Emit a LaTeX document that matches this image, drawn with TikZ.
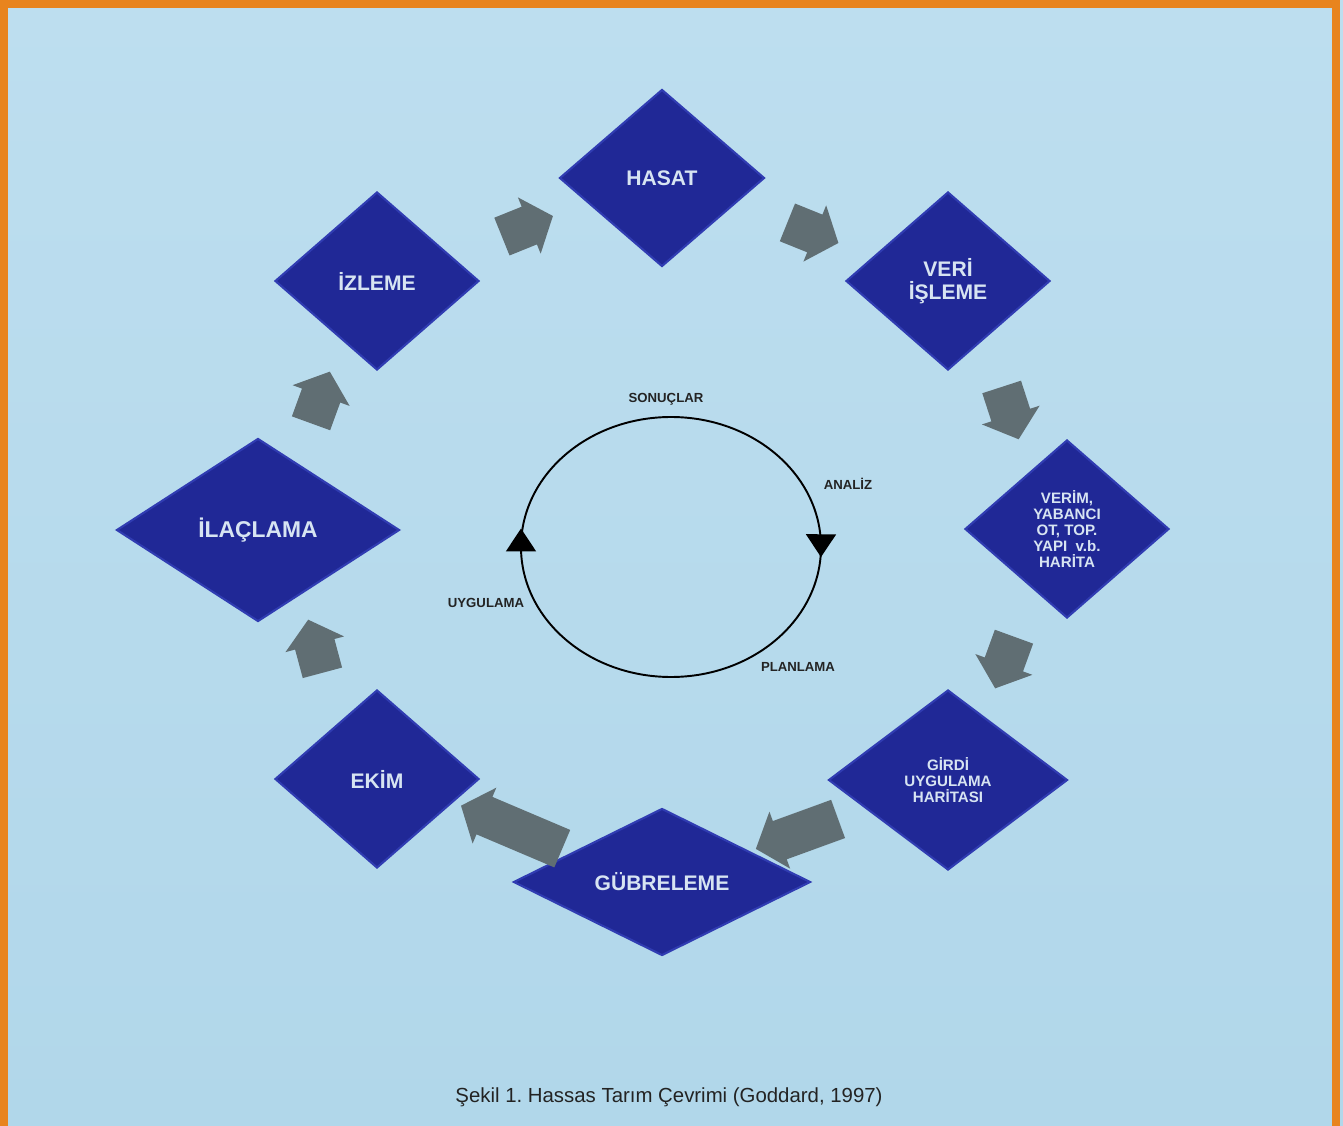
\documentclass[tikz,border=0pt]{standalone}
\usepackage{fontspec}
\setmainfont{Liberation Sans}
\usetikzlibrary{shapes.geometric, shapes.arrows, calc, decorations.markings, arrows.meta}

\definecolor{bgtop}{RGB}{189,222,239}
\definecolor{bgbottom}{RGB}{177,215,234}
\definecolor{frameorange}{RGB}{232,132,30}
\definecolor{boxblue}{RGB}{32,40,150}
\definecolor{boxedge}{RGB}{48,60,178}
\definecolor{boxtext}{RGB}{215,228,242}
\definecolor{arrowgray}{RGB}{96,110,115}
\definecolor{labelgray}{RGB}{35,35,35}

\tikzset{
    stepbox/.style={diamond, fill=boxblue, draw=boxedge, line width=1.2pt, inner sep=0pt,
        minimum width=4.08cm, minimum height=3.56cm, align=center, text=boxtext,
        font=\bfseries\fontsize{12}{13}\selectfont},
    smalltext/.style={font=\bfseries\fontsize{8.6}{9}\selectfont},
    flowarrow/.style={single arrow, fill=arrowgray, inner xsep=0pt, inner ysep=0.4cm,
        single arrow head extend=0.2cm, single arrow tip angle=100, minimum height=1.1cm},
    cyclelabel/.style={font=\bfseries\fontsize{7.5}{8}\selectfont, text=labelgray}
}

\begin{document}
\begin{tikzpicture}
    \useasboundingbox (0,0) rectangle (26.86,-22.52);
    % Draw the background and frame
    \shade[top color=bgtop, bottom color=bgbottom] (0,0) rectangle (26.86,-22.52);
    \draw[frameorange, line width=0.16cm] (0.08,-0.09) rectangle (26.71,-23);
    % Draw the steps
    \node[stepbox, minimum width=4.1cm, minimum height=3.54cm] (hasat) at (13.24,-3.56) {HASAT};
    \node[stepbox] (veri) at (18.96,-5.62) {VERİ\\İŞLEME};
    \node[stepbox, smalltext] (verim) at (21.34,-10.58) {VERİM,\\YABANCI\\OT, TOP.\\YAPI \ v.b.\\HARİTA};
    \node[stepbox, smalltext, minimum width=4.78cm, minimum height=3.6cm] (girdi) at (18.96,-15.6) {GİRDİ\\UYGULAMA\\HARİTASI};
    \node[stepbox, shape aspect=2, minimum width=5.94cm, minimum height=2.94cm] (gubreleme) at (13.24,-17.64) {GÜBRELEME};
    \node[stepbox] (ekim) at (7.54,-15.58) {EKİM};
    \node[stepbox, minimum width=5.66cm, minimum height=3.66cm, font=\bfseries\fontsize{13}{14}\selectfont] (ilaclama) at (5.16,-10.6) {İLAÇLAMA};
    \node[stepbox] (izleme) at (7.54,-5.62) {İZLEME};
    % Draw the arrows between steps
    \node[flowarrow, rotate=22] (a1) at ($(izleme)!.5!(hasat)$) {};
    \node[flowarrow, rotate=-22] (a2) at ($(hasat)!.5!(veri)$) {};
    \node[flowarrow, rotate=-72] (a3) at ($(veri)!.5!(verim)$) {};
    \node[flowarrow, rotate=-110] (a4) at ($(verim)!.5!(girdi)$) {};
    \node[flowarrow, rotate=200, minimum height=1.75cm] (a5) at ($(girdi)!.5!(gubreleme)$) {};
    \node[flowarrow, rotate=157, minimum height=2.2cm] (a6) at ($(gubreleme)!.5!(ekim)$) {};
    \node[flowarrow, rotate=105] (a7) at ($(ekim)!.5!(ilaclama)$) {};
    \node[flowarrow, rotate=70] (a8) at ($(ilaclama)!.5!(izleme)$) {};
    % Draw the inner cycle and its labels
    \coordinate (loopc) at (13.42,-10.94);
    \draw[line width=1.1pt, postaction={decorate}, decoration={markings,
        mark=at position 0.5 with {\pgftransformxshift{-10.5pt}\arrowreversed{Triangle[width=17pt, length=13pt]}},
        mark=at position 0.9995 with {\pgftransformxshift{-5.5pt}\arrowreversed{Triangle[width=17pt, length=13pt]}}}]
        (loopc) ellipse [x radius=3cm, y radius=2.6cm];
    \node[cyclelabel] (sonuc) at (13.32,-7.98) {SONUÇLAR};
    \node[cyclelabel] (analiz) at (16.96,-9.68) {ANALİZ};
    \node[cyclelabel] (uygulama) at (9.72,-12.06) {UYGULAMA};
    \node[cyclelabel] (planlama) at (15.96,-13.34) {PLANLAMA};
    % Draw the caption
    \node[font=\fontsize{11.6}{13}\selectfont, text=labelgray] (caption) at (13.38,-21.94) {Şekil 1.\ Hassas Tarım Çevrimi (Goddard, 1997)};
\end{tikzpicture}
\end{document}
